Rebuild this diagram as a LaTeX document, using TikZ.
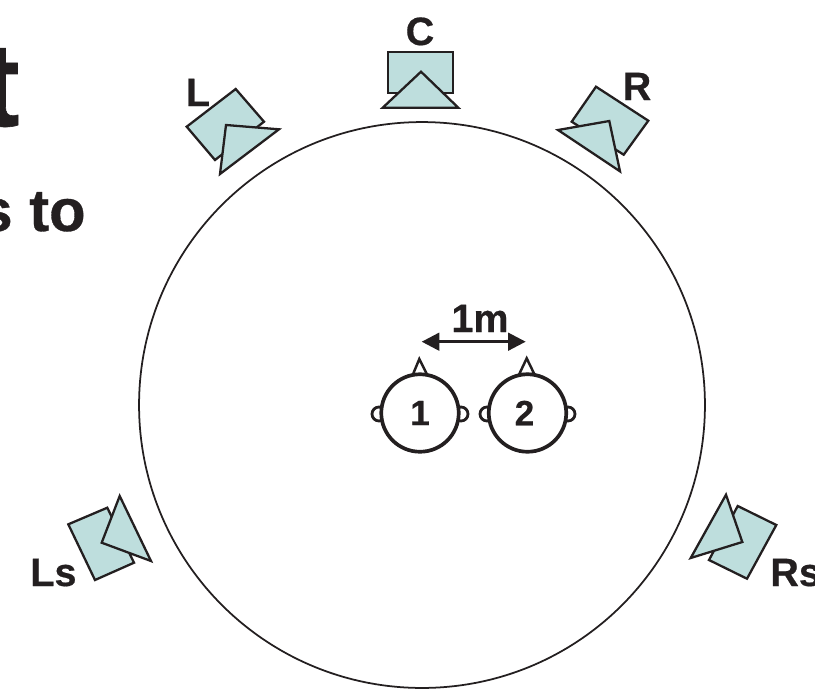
\documentclass[tikz,border=0pt]{standalone}
\usepackage{fontspec}
\setmainfont[BoldFeatures={FakeBold=0.5}]{Liberation Sans}
\usetikzlibrary{arrows.meta, positioning}
\definecolor{speakerfill}{HTML}{BEDEDD}
\definecolor{inkdark}{HTML}{231F20}

\begin{document}
\begin{tikzpicture}[
        x=0.02cm, y=-0.02cm,
        speaker/.style={draw=inkdark, line width=1.3pt, line join=miter, fill=speakerfill},
        head/.style={circle, draw=inkdark, line width=2.1pt, fill=white, minimum size=1.55cm, inner sep=0pt, font=\fontsize{20}{24}\selectfont\bfseries, text=inkdark},
        ear/.style={draw=inkdark, line width=1.6pt, fill=white},
        nose/.style={draw=inkdark, line width=1.4pt, fill=white},
        spklabel/.style={font=\fontsize{22.5}{26}\selectfont\bfseries, text=inkdark, inner sep=0pt, anchor=base},
        span/.style={{Triangle[length=10pt,width=10pt]}-{Triangle[length=10pt,width=10pt]}, line width=1.6pt, draw=inkdark}
    ]
        \useasboundingbox (0,0) rectangle (815,694);
        \clip (0,0) rectangle (815,694);

        % ----------------------------------------------------
        % SLIDE TEXT (cut off by the crop)
        % ----------------------------------------------------
        \node[font=\fontsize{68}{80}\selectfont\bfseries, text=inkdark, inner sep=0pt, anchor=base east] (bigtext) at (20, 126) {t};
        \node[font=\fontsize{34}{40}\selectfont\bfseries, text=inkdark, inner sep=0pt, anchor=base east] (sidetext) at (86, 231) {s to};

        % ----------------------------------------------------
        % LISTENING CIRCLE
        % ----------------------------------------------------
        \node[circle, draw=inkdark, line width=1pt, minimum size=11.32cm, inner sep=0pt] (room) at (422, 405) {};

        % ----------------------------------------------------
        % SPEAKERS
        % ----------------------------------------------------
        \draw[speaker] (387.7,52.3) -- (453.3,52.3) -- (453.3,93.3) -- (387.7,93.3) -- cycle;
        \draw[speaker] (421,71.7) -- (458.3,107.7) -- (382.7,107.7) -- cycle;

        \draw[speaker] (235.7,89) -- (264,121.7) -- (215,160) -- (186.7,126.7) -- cycle;
        \draw[speaker] (226,125) -- (279,129.3) -- (220,174) -- cycle;

        \draw[speaker] (596,86.7) -- (648.3,120.7) -- (623.7,154.7) -- (571.7,121.7) -- cycle;
        \draw[speaker] (609.3,121) -- (558,130) -- (620,171.3) -- cycle;

        \draw[speaker] (68.3,524.3) -- (107.3,507.7) -- (134,562.7) -- (95,580) -- cycle;
        \draw[speaker] (119.7,496) -- (151,561) -- (101.7,542.7) -- cycle;

        \draw[speaker] (737.7,506) -- (776.3,525) -- (747,578.7) -- (709,560) -- cycle;
        \draw[speaker] (726,494.7) -- (742.3,542) -- (690.7,558) -- cycle;

        \node[spklabel] (labelC) at (420, 45) {C};
        \node[spklabel] (labelL) at (198, 106) {L};
        \node[spklabel] (labelR) at (637, 100) {R};
        \node[spklabel, anchor=base west] (labelLs) at (30, 586) {Ls};
        \node[spklabel, anchor=base west] (labelRs) at (770, 586) {Rs};

        % ----------------------------------------------------
        % LISTENERS
        % ----------------------------------------------------
        \draw[ear] (379, 414) circle (7);
        \draw[ear] (461, 414) circle (7);
        \draw[ear] (487, 414) circle (7);
        \draw[ear] (568, 414) circle (7);
        \draw[nose] (419.3,359) -- (427.3,375) -- (412.7,375) -- cycle;
        \draw[nose] (526.7,358.3) -- (534.3,374) -- (519.3,374) -- cycle;

        \node[head] (head1) at (420, 413) {\raisebox{-1.7pt}{1}};
        \node[head] (head2) at (527.5, 413) {\raisebox{-1.7pt}{2}\kern3.4pt};

        % ----------------------------------------------------
        % SPACING BETWEEN LISTENERS
        % ----------------------------------------------------
        \coordinate (spanL) at (421.7, 341.7);
        \coordinate (spanR) at (525.7, 341.7);
        \draw[span] (spanL) -- (spanR);
        \node[font=\fontsize{22.5}{26}\selectfont\bfseries, text=inkdark, inner sep=0pt, anchor=base] (spanlabel) at (480, 332) {1m};

\end{tikzpicture}
\end{document}
